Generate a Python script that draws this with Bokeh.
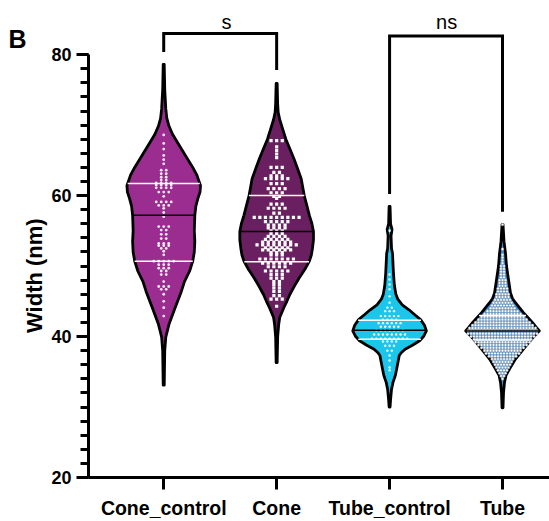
import numpy as np
from bokeh.plotting import figure
from bokeh.models import Label, FixedTicker, SingleIntervalTicker, Range1d
from bokeh.embed import file_html
from bokeh.resources import INLINE

# ---------------- data ----------------
categories = ["Cone_control", "Cone", "Tube_control", "Tube"]
colors = ["#9B2D91", "#6A1F61", "#1CC6EA", "#3F8FD8"]

# violin outlines: level (nm) and relative density
cc_lvl = [78.6, 75.0, 72.3, 71.0, 69.9, 68.7, 67.6, 66.4, 65.2, 64.0, 62.9, 61.4, 60.5, 59.6,
          58.5, 57.2, 55.0, 53.5, 52.0, 50.7, 49.3, 47.8, 46.4, 44.1, 41.7, 39.9, 38.0, 33.1]
cc_den = [0.5, 1, 2, 3, 5, 8.5, 13, 18, 23, 28, 32, 35.5, 35, 33,
          31, 30, 29.5, 30, 29.5, 28, 25, 20, 17, 11, 5, 2, 1, 0.5]

co_lvl = [75.9, 73.0, 71.8, 70.8, 69.4, 68.0, 66.6, 65.2, 63.8, 62.4, 61.2, 60.0, 58.6, 57.2,
          56.0, 54.9, 53.7, 52.5, 51.6, 50.7, 49.5, 48.3, 47.2, 46.0, 45.0, 44.1, 42.7, 41.7, 40.0, 36.3]
co_den = [0.5, 1, 1.5, 3, 6, 9, 13, 17, 20.5, 24, 25.5, 27, 29.5, 32,
          34.5, 36, 36, 35, 34, 32, 27.5, 22, 17.5, 13, 10, 7, 3, 2, 1, 0.5]

tc_lvl = [58.45, 56.0, 55.2, 54.3, 52.5, 51.8, 49.0, 47.2, 46.0, 45.3, 44.5, 43.8, 43.1, 42.4,
          41.6, 40.8, 40.0, 39.4, 38.8, 38.2, 37.7, 37.3, 35.9, 34.5, 33.5, 32.5, 31.0, 30.0]
tc_den = [0.5, 1, 2.5, 1.5, 2, 3, 4, 5, 6.5, 8.5, 13, 20, 26, 32,
          36, 38, 35, 31, 24, 16, 12, 10, 8, 6, 3.5, 2, 1, 0.5]

tu_lvl = [55.9, 53.5, 51.8, 50.0, 48.1, 46.2, 45.4, 44.8, 43.4, 42.0, 41.3, 40.8, 40.2, 39.6,
          38.2, 36.8, 35.4, 34.5, 33.5, 32.0, 29.9]
tu_den = [0.5, 1.5, 3, 4, 6, 8, 10, 13, 21, 30, 34, 37, 33, 29,
          21, 13, 7, 3.5, 2, 1, 0.5]

# quartiles and medians (nm)
q1 = [50.7, 50.6, 39.6, 39.5]
median = [57.2, 54.9, 40.9, 40.8]
q3 = [61.7, 60.0, 42.3, 43.0]

# individual points: row level (nm) and number of points in the row
cc_pts = [68.6, 67.4, 66.6, 65.7, 65.1, 64.5, 63.6, 63.1, 62.6, 62.2, 61.8, 61.5, 61.1, 60.5,
          59.9, 59.1, 58.6, 58.2, 57.6, 57.0, 55.6, 55.1, 54.5, 53.9, 53.2, 52.9, 52.5, 52.1,
          51.6, 50.7, 50.2, 49.7, 49.3, 48.8, 47.8, 47.1, 46.7, 46.0, 45.0, 44.1, 42.9]
cc_cnt = [1, 1, 1, 1, 1, 1, 2, 2, 2, 2, 4, 4, 4, 3,
          1, 4, 3, 1, 1, 1, 3, 2, 2, 2, 3, 3, 2, 1,
          1, 5, 3, 3, 2, 2, 1, 3, 2, 1, 1, 1, 1]

co_pts = [67.8, 66.9, 66.4, 65.9, 65.4, 64.0, 63.3, 62.8, 62.4, 61.7, 61.0, 60.4, 59.9, 59.6,
          58.8, 58.2, 57.5, 56.9, 56.3, 55.8, 55.4, 55.0, 54.6, 54.2, 53.8, 53.4, 53.0, 52.6,
          52.3, 51.9, 51.6, 51.0, 50.4, 49.9, 49.3, 48.8, 48.3, 47.8, 47.4, 46.9, 46.4, 45.8,
          45.3, 44.3]
co_cnt = [3, 1, 1, 1, 1, 3, 2, 3, 5, 3, 4, 3, 2, 1,
          3, 4, 2, 9, 5, 4, 4, 3, 3, 4, 5, 6, 8, 5,
          6, 3, 3, 7, 6, 4, 5, 3, 3, 2, 2, 2, 2, 2,
          3, 1]

tc_pts = [55.0, 48.8, 48.1, 47.4, 46.7, 45.7, 44.8, 44.1, 43.6, 42.9, 42.4, 41.9, 41.4, 40.9,
          40.3, 39.7, 39.3, 38.7, 38.0, 37.3, 36.6, 35.6, 35.2]
tc_cnt = [1, 1, 1, 1, 1, 1, 1, 2, 3, 5, 4, 6, 5, 7,
          8, 9, 4, 3, 2, 1, 1, 1, 1]

tu_pts = [55.9, 52.4, 51.6, 51.2, 50.8, 50.4, 50.0, 49.6, 49.2, 48.8, 48.4, 48.0, 47.6, 47.2,
          46.8, 46.4, 46.0, 45.6, 45.2, 44.8, 44.4, 44.0, 43.6, 43.2, 42.8, 42.4, 42.0, 41.6,
          41.2, 40.8, 40.4, 40.0, 39.6, 39.2, 38.8, 38.4, 38.0, 37.6, 37.2, 36.8, 36.4, 36.0,
          35.6, 35.2, 34.8, 34.4, 34.0]
tu_cnt = [1, 1, 1, 1, 1, 1, 2, 2, 2, 2, 2, 3, 3, 3,
          4, 4, 5, 5, 6, 7, 8, 9, 11, 13, 15, 17, 19, 21,
          23, 24, 24, 22, 20, 19, 17, 15, 13, 12, 10, 8, 7, 6,
          5, 4, 3, 2, 1]

# significance brackets: (left category, right category, text)
brackets = [(1, 2, "s"), (3, 4, "ns")]
panel_letter = "B"
y_title = "Width (nm)"

# ---------------- figure ----------------
p = figure(width=549, height=521, output_backend="svg", toolbar_location=None,
           x_range=Range1d(0.334, 4.416), y_range=Range1d(20, 87.68),
           min_border_left=88, min_border_right=0, min_border_top=0, min_border_bottom=40)
p.xgrid.visible = False
p.ygrid.visible = False
p.outline_line_color = None
p.background_fill_color = "white"

PX = 1 / 112.9           # one screen pixel in x data units
HALF_MAX = 36.8 * PX     # max violin half width

profiles = [(cc_lvl, cc_den), (co_lvl, co_den), (tc_lvl, tc_den), (tu_lvl, tu_den)]
points = [(cc_pts, cc_cnt), (co_pts, co_cnt), (tc_pts, tc_cnt), (tu_pts, tu_cnt)]
dot_style = [
    dict(marker="circle", size=2.8, fill_color="white", line_color=None, fill_alpha=0.9),
    dict(marker="square", size=3.2, fill_color="white", line_color=None),
    dict(marker="circle", size=2.4, fill_color="white", line_color=None, fill_alpha=0.95),
    dict(marker="circle", size=2.6, fill_color="white", line_color="#8d99a6", line_width=0.5),
]
dot_gap = [5.0, 5.6, 4.4, 3.0]

for i, cat in enumerate(categories):
    c = i + 1
    lvl = np.array(profiles[i][0], dtype=float)
    den = np.array(profiles[i][1], dtype=float)
    hw = den / den.max() * HALF_MAX
    xs = np.concatenate([c + hw, (c - hw)[::-1]])
    ys = np.concatenate([lvl, lvl[::-1]])
    p.patch(xs, ys, fill_color=colors[i], line_color="black", line_width=2.8, line_join="round")

    px, py = [], []
    for yv, n in zip(points[i][0], points[i][1]):
        for k in range(n):
            px.append(c + (k - (n - 1) / 2) * dot_gap[i] * PX)
            py.append(yv)
    p.scatter(px, py, **dot_style[i])

    order = np.argsort(lvl)
    def half(v):
        return np.interp(v, lvl[order], hw[order])
    for v, col in ((q3[i], "white"), (q1[i], "white"), (median[i], "black")):
        h = half(v)
        p.segment(x0=[c - h], y0=[v], x1=[c + h], y1=[v], line_color=col, line_width=1.5)

# brackets
bracket_top = [82.99, 82.63]
bracket_left_end = [80.36, 60.24]
bracket_right_end = [77.83, 57.71]
text_x = [1.556, 3.505]
for j, (a, b, t) in enumerate(brackets):
    p.line([a, a, b, b], [bracket_left_end[j], bracket_top[j], bracket_top[j], bracket_right_end[j]],
           line_color="black", line_width=3, line_join="miter")
    p.add_layout(Label(x=text_x[j], y=84.6, text=t, text_align="center", text_baseline="alphabetic",
                       text_font="Liberation Sans", text_font_size="20px", text_color="black"))

# panel letter: placed in the left side panel so that it is not clipped to the frame
p.add_layout(Label(x=-0.375, y=82.2, text=panel_letter,
                   text_align="left", text_baseline="alphabetic",
                   text_font="Liberation Sans", text_font_size="25px", text_font_style="bold",
                   text_color="black"), "left")

# axes
xa = p.xaxis[0]
xa.ticker = FixedTicker(ticks=[1, 2, 3, 4])
xa.major_label_overrides = {i + 1: c for i, c in enumerate(categories)}
xa.axis_line_width = 3
xa.axis_line_color = "black"
xa.major_tick_line_width = 3
xa.major_tick_line_color = "black"
xa.major_tick_in = 0
xa.major_tick_out = 12
xa.minor_tick_line_color = None
xa.major_label_text_font = "Liberation Sans"
xa.major_label_text_font_style = "bold"
xa.major_label_text_font_size = "19.5px"
xa.major_label_text_color = "black"
xa.major_label_standoff = 7

ya = p.yaxis[0]
ya.ticker = SingleIntervalTicker(interval=20, num_minor_ticks=10)
ya.bounds = (20, 80)
ya.axis_line_width = 3
ya.axis_line_color = "black"
ya.major_tick_line_width = 3
ya.minor_tick_line_width = 3
ya.major_tick_line_color = "black"
ya.minor_tick_line_color = "black"
ya.major_tick_in = 0
ya.major_tick_out = 12
ya.minor_tick_in = 0
ya.minor_tick_out = 8
ya.major_label_text_font = "Liberation Sans"
ya.major_label_text_font_style = "bold"
ya.major_label_text_font_size = "18px"
ya.major_label_text_color = "black"
ya.major_label_standoff = 5
ya.axis_label = y_title + "\u00a0" * 12
ya.axis_label_text_font = "Liberation Sans"
ya.axis_label_text_font_style = "bold"
ya.axis_label_text_font_size = "22px"
ya.axis_label_text_color = "black"
ya.axis_label_standoff = 1

open("out.html", "w").write(file_html(p, INLINE))
